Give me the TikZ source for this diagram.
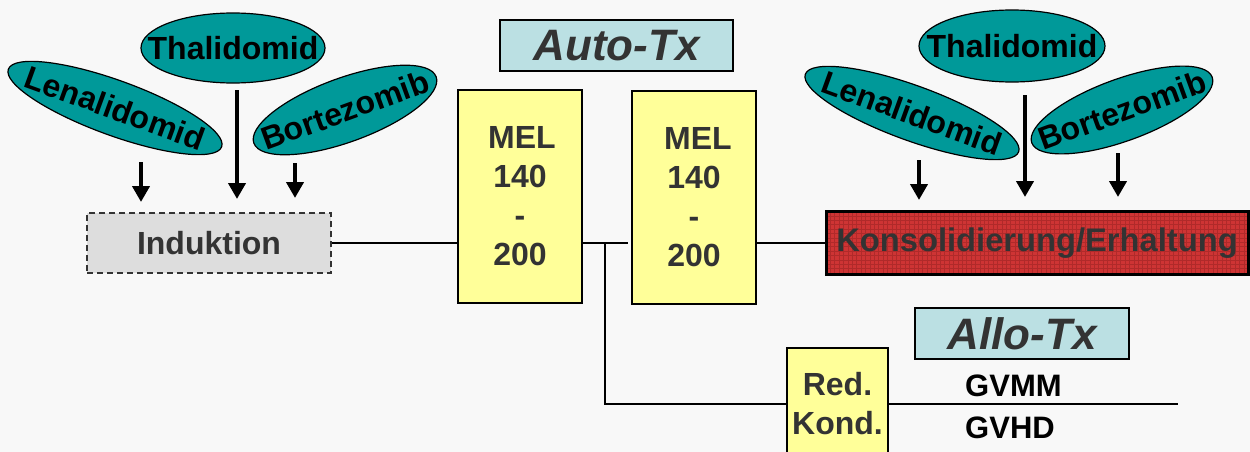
\documentclass[tikz,border=0pt]{standalone}
\usepackage{fontspec}
\setmainfont{Liberation Sans}
\usetikzlibrary{shapes.geometric,arrows.meta}
\definecolor{bg}{RGB}{248,248,248}
\definecolor{drugteal}{RGB}{0,153,153}
\definecolor{melyellow}{RGB}{255,255,153}
\definecolor{txblue}{RGB}{187,224,227}
\definecolor{indgray}{RGB}{221,221,221}
\definecolor{darktext}{RGB}{51,51,51}
\definecolor{konsred}{RGB}{206,52,52}
\definecolor{konsgrid}{RGB}{176,42,42}
\begin{document}
\begin{tikzpicture}[x=1pt,y=-1pt,
  drugpill/.style={ellipse, draw=black, line width=1.2pt, fill=drugteal, inner sep=0pt},
  drugname/.style={font=\fontsize{32pt}{38pt}\selectfont\bfseries, text=black, inner sep=0pt},
  push/.style={line width=4.5pt, -{Triangle[length=16pt,width=17pt]}},
  link/.style={line width=2.5pt},
  bigtext/.style={font=\fontsize{32pt}{39pt}\selectfont\bfseries, text=darktext, align=center},
  melbox/.style={bigtext, draw=black, line width=2pt, fill=melyellow, minimum width=124pt, minimum height=213pt, inner sep=0pt},
  txbox/.style={draw=black, line width=1.5pt, fill=txblue, inner sep=0pt, font=\fontsize{44pt}{50pt}\selectfont\bfseries\itshape, text=darktext},
  plain/.style={font=\fontsize{31pt}{38pt}\selectfont\bfseries, text=black, inner sep=0pt, anchor=west}
]
% page and background
\clip (0,0) rectangle (1250,452);
\fill[bg] (0,0) rectangle (1250,452);

% induction drugs
\node[drugpill, minimum width=184pt, minimum height=70pt] (tha1) at (233,48) {};
\node[drugname] (tha1t) at (tha1.center) {Thalidomid};
\node[drugpill, rotate=-20, minimum width=227pt, minimum height=55pt] (len1) at (115,108) {};
\node[drugname, rotate=-20] (len1t) at (len1.center) {Lenalidomid};
\node[drugpill, rotate=20, minimum width=194pt, minimum height=64pt] (bor1) at (345,110) {};
\node[drugname, rotate=20] (bor1t) at (bor1.center) {Bortezomib};

% consolidation drugs
\node[drugpill, minimum width=186pt, minimum height=72pt] (tha2) at (1012,46) {};
\node[drugname] (tha2t) at (tha2.center) {Thalidomid};
\node[drugpill, rotate=-20, minimum width=227pt, minimum height=55pt] (len2) at (912,113) {};
\node[drugname, rotate=-20] (len2t) at (len2.center) {Lenalidomid};
\node[drugpill, rotate=20, minimum width=192pt, minimum height=62pt] (bor2) at (1122,110) {};
\node[drugname, rotate=20] (bor2t) at (bor2.center) {Bortezomib};

% treatment stages
\node[bigtext, draw=darktext, dashed, dash pattern=on 6pt off 4pt, line width=1.5pt, fill=indgray,
      minimum width=244pt, minimum height=60pt, inner sep=0pt] (ind) at (209,243) {Induktion};
\node[melbox] (mel1) at (520,196.5) {\hspace*{4pt}MEL\\140\\-\\200};
\node[melbox] (mel2) at (694,197) {\hspace*{8pt}MEL\\140\\-\\200};
\node[txbox, minimum width=233pt, minimum height=51pt] (auto) at (616.5,45.5) {Auto-Tx};
\node[bigtext, font=\fontsize{32.7pt}{39pt}\selectfont\bfseries, draw=black, line width=3pt,
      minimum width=422pt, minimum height=63pt, inner sep=0pt, fill=konsred,
      path picture={
        \foreach \i in {0,4.4,...,430}
          \draw[konsgrid, line width=0.8pt] ([xshift=\i pt]path picture bounding box.north west)
              -- ([xshift=\i pt]path picture bounding box.south west);
        \foreach \j in {0,4.4,...,66}
          \draw[konsgrid, line width=0.8pt] ([yshift=-\j pt]path picture bounding box.north west)
              -- ([yshift=-\j pt]path picture bounding box.north east);
      }] (kons) at (1037,243) {Konsolidierung/Erhaltung};
\node[txbox, minimum width=214pt, minimum height=51pt] (allo) at (1022,333.5) {Allo-Tx};
\node[bigtext, draw=black, line width=1.5pt, fill=melyellow, minimum width=101pt, minimum height=112pt,
      inner sep=0pt] (red) at (837.5,404) {Red.\\Kond.};
\node[plain] (gvmm) at (965,386) {GVMM};
\node[plain] (gvhd) at (965,428) {GVHD};

% drug arrows
\coordinate (l1s) at (141,162);  \coordinate (l1e) at (141,202);
\coordinate (t1s) at (237,90);   \coordinate (t1e) at (237,199);
\coordinate (b1s) at (295,163);  \coordinate (b1e) at (295,198);
\coordinate (l2s) at (919,160);  \coordinate (l2e) at (919,200);
\coordinate (t2s) at (1025,95);  \coordinate (t2e) at (1025,197);
\coordinate (b2s) at (1118,153); \coordinate (b2e) at (1118,197);
\foreach \a in {l1,t1,b1,l2,t2,b2}
  \draw[push] (\a s) -- (\a e);

% treatment line
\coordinate (jn) at (605,243);
\coordinate (alloend) at (1178,404);
\draw[link] (ind.east) -- (ind.east -| mel1.west);
\draw[link, shorten >=3pt] (ind.east -| mel1.east) -- (ind.east -| mel2.west);
\draw[link] (kons.west -| mel2.east) -- (kons.west);
\draw[link] (jn) |- (red.west);
\draw[link] (red.east) -- (alloend);
\end{tikzpicture}
\end{document}
